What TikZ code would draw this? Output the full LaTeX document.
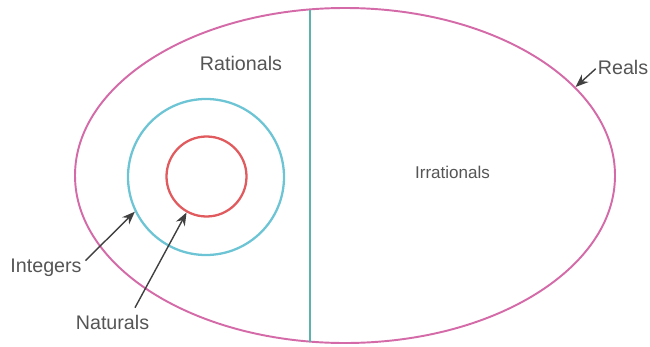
\documentclass[tikz,border=0pt]{standalone}
\usepackage{xcolor}
\usepackage{tikz}
\usetikzlibrary{shapes.geometric,arrows.meta}
\usepackage{fontspec}
\setmainfont{Liberation Sans}
\definecolor{setpink}{HTML}{D46AA8}
\definecolor{setcyan}{HTML}{6CC4D4}
\definecolor{setred}{HTML}{E05A5E}
\definecolor{setteal}{HTML}{5CB3AC}
\definecolor{setgray}{HTML}{555555}
\definecolor{setarrow}{HTML}{404040}

\begin{document}
\begin{tikzpicture}[x=1cm,y=1cm,
    lbl/.style={text=setgray,inner sep=1pt,font=\fontsize{11.2}{13}\selectfont},
    ptr/.style={setarrow,line width=0.8pt,-{Stealth[length=2.6mm,width=2mm]}}]
  \useasboundingbox (0,0) rectangle (13,6.92);
  \node[draw=setpink,line width=1.1pt,ellipse,minimum width=10.8cm,minimum height=6.7cm,inner sep=0pt] (reals) at (6.90,3.41) {};
  \coordinate (cuttop) at (6.20,6.73);
  \coordinate (cutbot) at (6.20,0.09);
  \draw[setteal,line width=1.1pt] (cuttop) -- (cutbot);
  \node[draw=setcyan,line width=1.3pt,circle,minimum size=3.12cm,inner sep=0pt] (integers) at (4.12,3.38) {};
  \node[draw=setred,line width=1.3pt,circle,minimum size=1.60cm,inner sep=0pt] (naturals) at (4.13,3.39) {};
  \node[lbl] (lblrat) at (4.82,5.66) {Rationals};
  \node[lbl,font=\fontsize{9.7}{12}\selectfont] (lblirr) at (9.05,3.48) {Irrationals};
  \node[lbl] (lblreal) at (12.46,5.58) {Reals};
  \node[lbl] (lblint) at (0.92,1.56) {Integers};
  \node[lbl] (lblnat) at (2.25,0.48) {Naturals};
  \draw[ptr] ([xshift=1pt,yshift=-2pt]lblint.north east) -- (integers.206);
  \draw[ptr] ([xshift=0.45cm,yshift=0.1cm]lblnat.north) -- (naturals.241);
  \draw[ptr] ([yshift=-1pt]lblreal.west) -- (reals.21);
\end{tikzpicture}
\end{document}
